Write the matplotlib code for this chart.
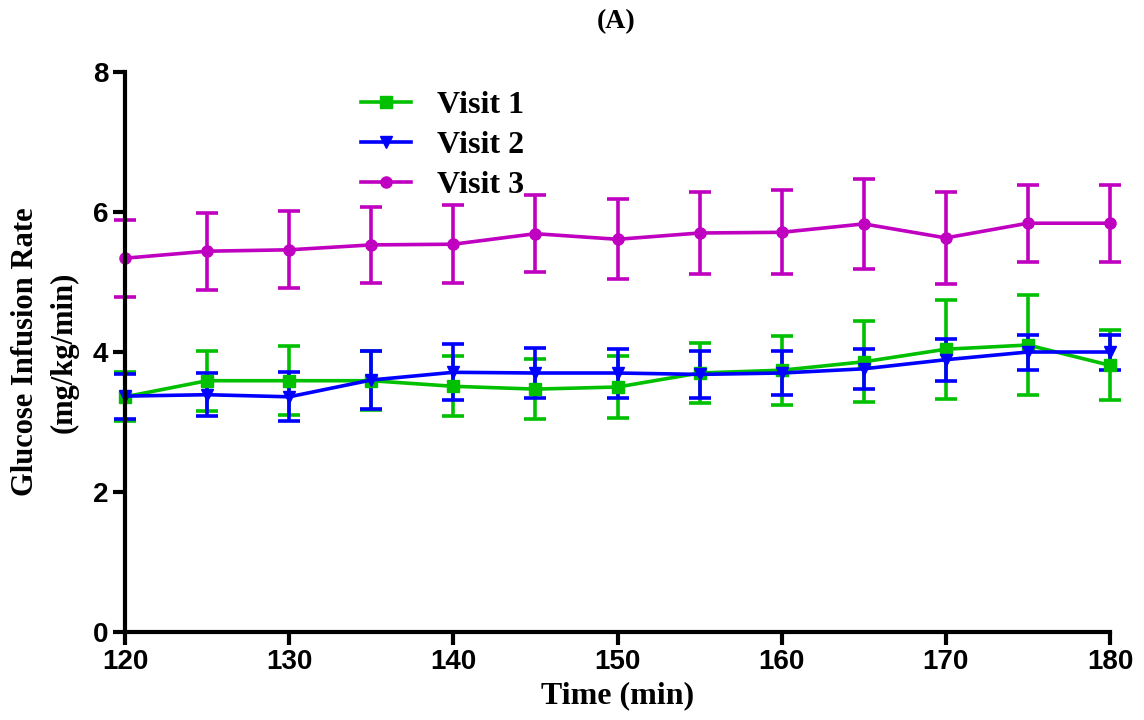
import matplotlib
matplotlib.use('Agg')
import matplotlib.pyplot as plt

time_min = [120, 125, 130, 135, 140, 145, 150, 155, 160, 165, 170, 175, 180]

visit1 = [3.36, 3.59, 3.59, 3.59, 3.51, 3.47, 3.50, 3.70, 3.74, 3.86, 4.04, 4.10, 3.81]
visit1_err = [0.35, 0.43, 0.49, 0.42, 0.43, 0.43, 0.44, 0.43, 0.49, 0.58, 0.71, 0.71, 0.50]

visit2 = [3.37, 3.39, 3.36, 3.60, 3.71, 3.70, 3.70, 3.68, 3.70, 3.76, 3.89, 4.00, 4.00]
visit2_err = [0.32, 0.31, 0.35, 0.41, 0.40, 0.36, 0.35, 0.34, 0.31, 0.29, 0.30, 0.25, 0.25]

visit3 = [5.34, 5.44, 5.46, 5.53, 5.54, 5.69, 5.61, 5.70, 5.71, 5.83, 5.63, 5.84, 5.84]
visit3_err = [0.55, 0.55, 0.55, 0.54, 0.56, 0.55, 0.57, 0.58, 0.60, 0.64, 0.66, 0.55, 0.55]

series = [
    ('Visit 1', visit1, visit1_err, '#00C000', 's'),
    ('Visit 2', visit2, visit2_err, '#0000FF', 'v'),
    ('Visit 3', visit3, visit3_err, '#C000C0', 'o'),
]

fig = plt.figure(figsize=(11.44, 7.2), dpi=100)
ax = fig.add_axes([0.1093, 0.1222, 0.861, 0.7778])

handles = []
for name, vals, err, color, marker in series:
    c = ax.errorbar(time_min, vals, yerr=err, color=color, marker=marker, markersize=8,
                    lw=2.6, elinewidth=2.6, capsize=8, capthick=2.6, label=name, clip_on=False)
    handles.append(c[0])

ax.set_xlim(120, 180)
ax.set_ylim(0, 8)
ax.set_xticks(range(120, 181, 10))
ax.set_yticks([0, 2, 4, 6, 8])

for s in ['top', 'right']:
    ax.spines[s].set_visible(False)
for s in ['left', 'bottom']:
    ax.spines[s].set_linewidth(3)

ax.tick_params(axis='both', width=3, length=9, labelsize=20, direction='out', pad=3)
for lab in ax.get_xticklabels() + ax.get_yticklabels():
    lab.set_fontfamily('Liberation Sans')
    lab.set_fontweight('bold')

ax.set_xlabel('Time (min)', fontfamily='Liberation Serif', fontweight='bold', fontsize=23, labelpad=5)
ax.set_ylabel('Glucose Infusion Rate\n(mg/kg/min)', fontfamily='Liberation Serif',
              fontweight='bold', fontsize=22, labelpad=10, linespacing=1.45)

fig.text(0.539, 0.97, '(A)', ha='center', va='center', fontfamily='Liberation Serif',
         fontweight='bold', fontsize=20)

ax.legend(handles, [s[0] for s in series], loc='upper left', bbox_to_anchor=(0.24, 0.966),
          frameon=False, borderpad=0, borderaxespad=0,
          prop={'family': 'Liberation Serif', 'weight': 'bold', 'size': 23},
          handlelength=1.55, labelspacing=0.33, handletextpad=0.8, numpoints=1)

fig.savefig('out.png', dpi=100)
